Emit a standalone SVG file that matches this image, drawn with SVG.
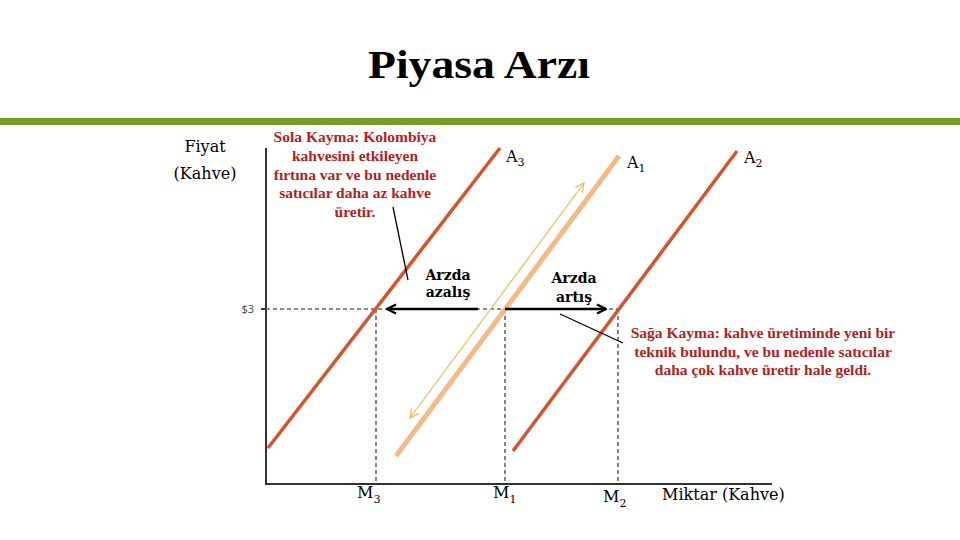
<svg xmlns="http://www.w3.org/2000/svg" width="960" height="540" viewBox="0 0 960 540">
<defs>
<style>
.title{font-family:"Liberation Serif","Times New Roman",serif;font-weight:bold;font-size:40px;fill:#000}
.lbl{font-family:"DejaVu Serif","Liberation Serif",serif;font-size:16px;fill:#000}
.sub{font-size:11px}
.note{font-family:"Liberation Serif","Times New Roman",serif;font-weight:bold;font-size:15.5px;fill:#B41E1E}
.arr{font-family:"DejaVu Serif","Liberation Serif",serif;font-weight:bold;font-size:14px;fill:#000}
.dash{stroke:#666;stroke-width:1.6;stroke-dasharray:4 3;fill:none}
.axis{stroke:#333;stroke-width:2;fill:none}
.dark{stroke:#D4552B;stroke-width:3.5;fill:none}
.light{stroke:#F4B985;stroke-width:5;fill:none}
.call{stroke:#000;stroke-width:1.3;fill:none}
</style>
<marker id="ah" viewBox="0 0 10 10" refX="9" refY="5" markerWidth="4.5" markerHeight="4.5" orient="auto-start-reverse" markerUnits="strokeWidth">
<path d="M1,1 L9,5 L1,9" fill="none" stroke="#000" stroke-width="2"/>
</marker>
<marker id="ay" viewBox="0 0 10 10" refX="9" refY="5" markerWidth="9" markerHeight="9" orient="auto-start-reverse" markerUnits="strokeWidth">
<path d="M1,1 L9,5 L1,9" fill="none" stroke="#E6BE5A" stroke-width="1.2"/>
</marker>
</defs>
<rect width="960" height="540" fill="#fff"/>
<g id="title">
<text class="title" x="479" y="78" text-anchor="middle" textLength="222" lengthAdjust="spacingAndGlyphs">Piyasa Arzı</text>
<rect x="0" y="118" width="960" height="7" fill="#71A022"/>
</g>
<g id="axes">
<line class="axis" x1="266" y1="148" x2="266" y2="484"/>
<line class="axis" x1="265" y1="484" x2="772" y2="484"/>
<line class="axis" x1="261" y1="309" x2="266" y2="309"/>
<text x="254" y="313" text-anchor="end" font-family="'Open Sans','Liberation Sans',sans-serif" font-size="11" fill="#444">$3</text>
</g>
<g id="guides">
<line class="dash" x1="266" y1="309" x2="618" y2="309"/>
<line class="dash" x1="376" y1="309" x2="376" y2="484"/>
<line class="dash" x1="505" y1="309" x2="505" y2="484"/>
<line class="dash" x1="618" y1="309" x2="618" y2="484"/>
</g>
<g id="curve-A3">
<line class="dark" x1="268" y1="448" x2="500" y2="148"/>
<text class="lbl" x="506" y="162">A<tspan class="sub" dy="4">3</tspan></text>
</g>
<g id="curve-A1">
<line class="light" x1="396" y1="456" x2="619" y2="156"/>
<text class="lbl" x="627" y="168">A<tspan class="sub" dy="4">1</tspan></text>
</g>
<g id="curve-A2">
<line class="dark" x1="513" y1="451" x2="737" y2="151"/>
<text class="lbl" x="744" y="163">A<tspan class="sub" dy="4">2</tspan></text>
</g>
<g id="connectors">
<line x1="410" y1="418" x2="584" y2="183" stroke="#E6BE5A" stroke-width="1.2" marker-start="url(#ay)" marker-end="url(#ay)"/>
<line x1="478" y1="309" x2="387" y2="309" stroke="#000" stroke-width="2.5" marker-end="url(#ah)"/>
<line x1="505" y1="309" x2="606" y2="309" stroke="#000" stroke-width="2.5" marker-end="url(#ah)"/>
<line class="call" x1="393" y1="207" x2="408" y2="280"/>
<line class="call" x1="560" y1="314" x2="623" y2="343"/>
</g>
<g id="ylabel">
<text class="lbl" x="205" y="152" text-anchor="middle">Fiyat</text>
<text class="lbl" x="205" y="179" text-anchor="middle">(Kahve)</text>
</g>
<g id="note-left">
<text class="note" text-anchor="middle"><tspan x="355" y="142">Sola Kayma: Kolombiya</tspan><tspan x="355" y="161">kahvesini etkileyen</tspan><tspan x="355" y="180">fırtına var ve bu nedenle</tspan><tspan x="355" y="198">satıcılar daha az kahve</tspan><tspan x="355" y="217">üretir.</tspan></text>
</g>
<g id="note-right">
<text class="note" text-anchor="middle"><tspan x="763" y="338">Sağa Kayma: kahve üretiminde yeni bir</tspan><tspan x="763" y="357">teknik bulundu, ve bu nedenle satıcılar</tspan><tspan x="763" y="375">daha çok kahve üretir hale geldi.</tspan></text>
</g>
<g id="label-decrease">
<text class="arr" text-anchor="middle"><tspan x="448" y="280">Arzda</tspan><tspan x="448" y="297">azalış</tspan></text>
</g>
<g id="label-increase">
<text class="arr" text-anchor="middle"><tspan x="574" y="283">Arzda</tspan><tspan x="574" y="302">artış</tspan></text>
</g>
<g id="xlabels">
<text class="lbl" x="357" y="498">M<tspan class="sub" dy="5">3</tspan></text>
<text class="lbl" x="493" y="498">M<tspan class="sub" dy="5">1</tspan></text>
<text class="lbl" x="603" y="502">M<tspan class="sub" dy="5">2</tspan></text>
<text class="lbl" x="662" y="500">Miktar (Kahve)</text>
</g>
</svg>
